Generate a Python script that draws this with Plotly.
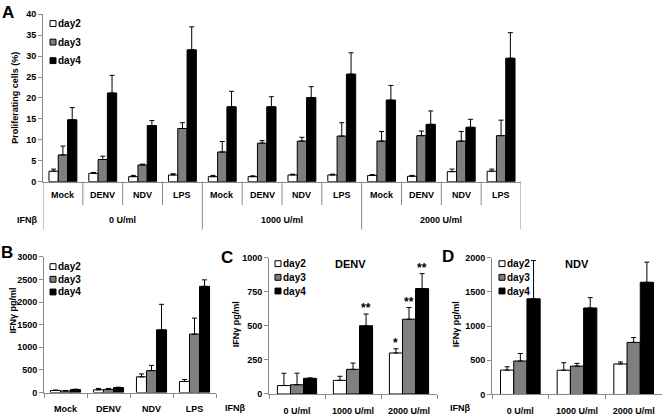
import plotly.graph_objects as go

W, H = 664, 419
def px(x): return x / W
def py(y): return 1 - y / H

# ---------------- data ----------------
days = ["day2", "day3", "day4"]
colors = ["white", "#7f7f7f", "black"]

# Panel A
a_categories = ["Mock", "DENV", "NDV", "LPS"] * 3
a_groups = ["0 U/ml", "1000 U/ml", "2000 U/ml"]
a_day2 = [2.5, 2.0, 1.2, 1.6, 1.2, 1.2, 1.6, 1.6, 1.5, 1.3, 2.4, 2.5]
a_day2_err = [0.5, 0.2, 0.3, 0.3, 0.3, 0.2, 0.2, 0.2, 0.2, 0.2, 0.6, 0.5]
a_day3 = [6.4, 5.3, 4.0, 12.7, 7.1, 9.2, 9.7, 10.9, 9.7, 11.0, 9.7, 11.0]
a_day3_err = [2.1, 0.8, 0.2, 1.4, 2.5, 0.6, 0.9, 3.2, 2.3, 1.1, 2.3, 3.7]
a_day4 = [14.8, 21.2, 13.4, 31.5, 17.9, 17.9, 20.1, 25.7, 19.5, 13.7, 13.0, 29.5]
a_day4_err = [2.9, 4.2, 1.2, 5.5, 3.7, 2.4, 2.6, 5.1, 3.5, 3.2, 1.9, 6.1]

# Panel B
b_categories = ["Mock", "DENV", "NDV", "LPS"]
b_day2 = [45, 60, 347, 245]
b_day2_err = [10, 30, 64, 44]
b_day3 = [35, 70, 484, 1292]
b_day3_err = [10, 20, 116, 354]
b_day4 = [65, 110, 1386, 2347]
b_day4_err = [10, 8, 564, 144]

# Panel C (DENV)
c_categories = ["0 U/ml", "1000 U/ml", "2000 U/ml"]
c_day2 = [62, 100, 301]
c_day2_err = [90, 30, 31]
c_day3 = [68, 181, 549]
c_day3_err = [85, 46, 86]
c_day4 = [115, 501, 774]
c_day4_err = [3, 86, 110]
c_stars = [["", "", ""], ["", "", "**"], ["*", "**", "**"]]  # [category][day]

# Panel D (NDV)
d_categories = ["0 U/ml", "1000 U/ml", "2000 U/ml"]
d_day2 = [357, 355, 447]
d_day2_err = [48, 110, 29]
d_day3 = [490, 415, 762]
d_day3_err = [110, 40, 71]
d_day4 = [1400, 1266, 1642]
d_day4_err = [561, 152, 295]

FONT = "Liberation Sans"
BG = 0.3

fig = go.Figure()

def add_bars(x, vals, errs, xa, ya):
    for k in range(3):
        fig.add_trace(go.Bar(
            x=x, y=vals[k], name=days[k], showlegend=False,
            marker=dict(color=colors[k], line=dict(color="black", width=1)),
            error_y=dict(type="data", array=errs[k], symmetric=False,
                         arrayminus=[0] * len(vals[k]), color="black",
                         thickness=1, width=2.5),
            xaxis=xa, yaxis=ya, offsetgroup=f"{xa}{k}"))

add_bars(list(range(len(a_categories))), [a_day2, a_day3, a_day4],
         [a_day2_err, a_day3_err, a_day4_err], "x", "y")
add_bars(b_categories, [b_day2, b_day3, b_day4],
         [b_day2_err, b_day3_err, b_day4_err], "x2", "y2")
add_bars(c_categories, [c_day2, c_day3, c_day4],
         [c_day2_err, c_day3_err, c_day4_err], "x3", "y3")
add_bars(d_categories, [d_day2, d_day3, d_day4],
         [d_day2_err, d_day3_err, d_day4_err], "x4", "y4")

tickfont = dict(family=FONT, size=9, color="black", weight="bold")
axcol = "#8a8a8a"

def yax(dom, rng, dtick, anchor):
    return dict(domain=dom, range=rng, dtick=dtick, showgrid=False, zeroline=False,
                showline=True, linecolor=axcol, linewidth=1, ticks="outside",
                ticklen=4, tickcolor=axcol, tickfont=tickfont, anchor=anchor,
                fixedrange=True)

def xax(dom, anchor, **kw):
    d = dict(domain=dom, showgrid=False, zeroline=False, showline=True,
             linecolor=axcol, linewidth=1, tickfont=tickfont, anchor=anchor,
             fixedrange=True)
    d.update(kw)
    return d

cat_kw = dict(type="category", ticks="outside", tickson="boundaries", ticklen=4,
              tickcolor=axcol, ticklabelstandoff=8)

nA = len(a_categories)
fig.update_layout(
    width=W, height=H, margin=dict(l=0, r=0, t=0, b=0),
    paper_bgcolor="white", plot_bgcolor="white",
    barmode="group", bargap=BG, bargroupgap=0,
    font=dict(family=FONT, color="black"),
    xaxis=xax([px(43), px(521)], "y", range=[-0.5, nA - 0.5], showticklabels=False, ticks=""),
    yaxis=yax([py(181), py(9.5)], [0, 40], 5, "x"),
    xaxis2=xax([px(44), px(216)], "y2", **cat_kw),
    yaxis2=yax([py(397), py(258)], [0, 3000], 500, "x2"),
    xaxis3=xax([px(269), px(437)], "y3", **cat_kw),
    yaxis3=yax([py(398.5), py(259)], [0, 1000], 250, "x3"),
    xaxis4=xax([px(492), px(662)], "y4", **cat_kw),
    yaxis4=yax([py(399), py(259)], [0, 2000], 500, "x4"),
)

shapes = []
ann = []

def note(text, x, y, xref="paper", yref="paper", size=9, xanchor="center",
         yanchor="middle", **kw):
    d = dict(text=text, x=x, y=y, xref=xref, yref=yref, showarrow=False,
             xanchor=xanchor, yanchor=yanchor,
             font=dict(family=FONT, size=size, color="black", weight="bold"))
    d.update(kw)
    ann.append(d)

# Panel A table: category separators and group separators
for i in range(nA + 1):
    xb = i - 0.5
    long_line = (i % 4 == 0)
    shapes.append(dict(type="line", xref="x", yref="paper", x0=xb, x1=xb,
                       y0=py(181), y1=py(230 if long_line else 205),
                       line=dict(color=axcol, width=1)))
for i, c in enumerate(a_categories):
    note(c, i, py(195), xref="x")
for g, lab in enumerate(a_groups):
    note(lab, g * 4 + 1.5, py(220), xref="x")
note("IFNβ", px(27), py(220))
for xx in [235, 460]:
    note("IFNβ", px(xx), py(413))

# stars in panel C
w = (1 - BG) / 3
cvals = [c_day2, c_day3, c_day4]
cerrs = [c_day2_err, c_day3_err, c_day4_err]
for i in range(len(c_categories)):
    for k in range(3):
        s = c_stars[i][k]
        if s:
            note(s, i + (k - 1) * w, cvals[k][i] + cerrs[k][i], xref="x3", yref="y3",
                 size=12, yanchor="bottom", yshift=-3)

# panel letters
for lab, xx, yy in [("A", 8, 8), ("B", 7, 254), ("C", 227, 259), ("D", 448, 258)]:
    note(lab, px(xx), py(yy), size=17)

# y titles
for lab, xx, yy in [("Proliferating cells (%)", 15, 95), ("IFNγ pg/ml", 13, 313),
                    ("IFNγ pg/ml", 236, 327), ("IFNγ pg/ml", 456, 327)]:
    note(lab, px(xx), py(yy), textangle=-90)

# panel titles
for lab, xx in [("DENV", 350), ("NDV", 577)]:
    note(lab, px(xx), py(265), size=11)

# legends (manual)
def legend(x0, ys, sz=6):
    for k, yy in enumerate(ys):
        shapes.append(dict(type="rect", xref="paper", yref="paper",
                           x0=px(x0), x1=px(x0 + sz), y0=py(yy + sz / 2), y1=py(yy - sz / 2),
                           fillcolor=colors[k], line=dict(color="black", width=1)))
        note(days[k], px(x0 + sz), py(yy), size=10, xanchor="left")

legend(50, [19, 38, 57])
legend(50, [268, 281, 294])
legend(275, [265, 279, 293])
legend(499, [265, 279, 293])

fig.update_layout(shapes=shapes, annotations=ann)
fig.write_html("out.html", config={"displayModeBar": False},
               post_script="document.body.style.margin='0px';")
